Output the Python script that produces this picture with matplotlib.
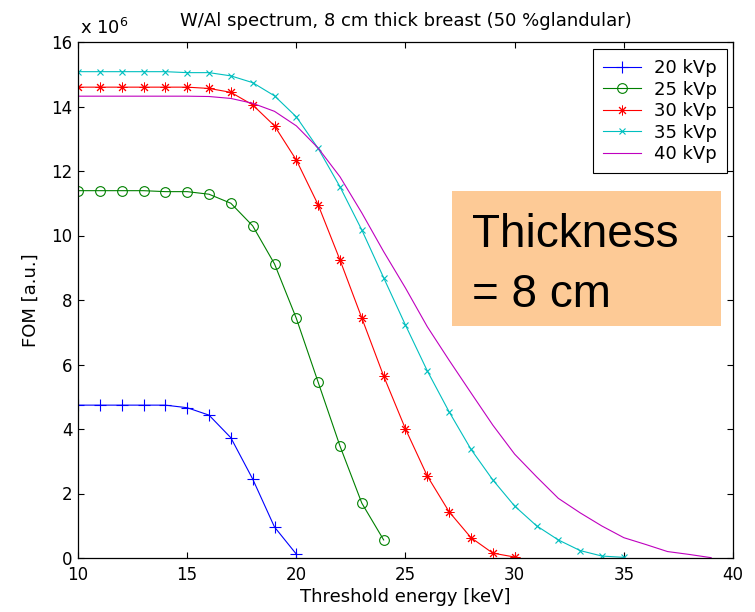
import matplotlib
matplotlib.use('Agg')
import matplotlib.pyplot as plt
from matplotlib.patches import Rectangle

# threshold energy [keV] and FOM [x 1e6] per tube voltage
energy_20 = list(range(10, 21))
fom_20 = [4.74, 4.74, 4.74, 4.74, 4.74, 4.66, 4.43, 3.73, 2.45, 0.96, 0.12]

energy_25 = list(range(10, 25))
fom_25 = [11.39, 11.39, 11.39, 11.39, 11.36, 11.36, 11.28, 11.0, 10.3, 9.12,
          7.43, 5.45, 3.47, 1.70, 0.56]

energy_30 = list(range(10, 31))
fom_30 = [14.6, 14.6, 14.6, 14.6, 14.6, 14.6, 14.56, 14.44, 14.05, 13.4,
          12.34, 10.95, 9.24, 7.44, 5.64, 4.0, 2.54, 1.43, 0.63, 0.15, 0.03]

energy_35 = list(range(10, 36))
fom_35 = [15.08, 15.08, 15.08, 15.08, 15.08, 15.05, 15.05, 14.95, 14.74, 14.33,
          13.68, 12.7, 11.51, 10.17, 8.69, 7.22, 5.80, 4.53, 3.37, 2.42,
          1.61, 1.0, 0.56, 0.23, 0.06, 0.02]

energy_40 = list(range(10, 40))
fom_40 = [14.32, 14.32, 14.32, 14.32, 14.32, 14.32, 14.31, 14.25, 14.1, 13.85,
          13.4, 12.71, 11.82, 10.7, 9.5, 8.37, 7.17, 6.13, 5.12, 4.12,
          3.22, 2.52, 1.85, 1.4, 0.99, 0.63, 0.42, 0.2, 0.11, 0.01]

labels = ['20 kVp', '25 kVp', '30 kVp', '35 kVp', '40 kVp']

fig = plt.figure(figsize=(7.55, 6.12), dpi=100)
ax = fig.add_axes([78 / 755, 1 - 558 / 612, 655 / 755, 516 / 612])

lw = 0.8
ax.plot(energy_20, fom_20, color=(0, 0, 1), marker='+', ms=8, mew=0.8, lw=lw, label=labels[0])
ax.plot(energy_25, fom_25, color=(0, 0.5, 0), marker='o', ms=7, mfc='none', mew=0.8, lw=lw, label=labels[1])
ax.plot(energy_30, fom_30, color=(1, 0, 0), marker=(8, 2, 0), ms=7, mew=0.7, lw=lw, label=labels[2])
ax.plot(energy_35, fom_35, color=(0, 0.75, 0.75), marker='x', ms=4.5, mew=0.8, lw=lw, label=labels[3])
ax.plot(energy_40, fom_40, color=(0.75, 0, 0.75), lw=lw, label=labels[4])

ax.set_xlim(10, 40)
ax.set_ylim(0, 16)
ax.set_xticks(range(10, 41, 5))
ax.set_yticks(range(0, 17, 2))
ax.tick_params(direction='in', top=True, right=True, length=4.5, width=0.8,
               labelsize=12)
ax.tick_params(axis='x', pad=6)
ax.tick_params(axis='y', pad=4)
for s in ax.spines.values():
    s.set_linewidth(0.9)

ax.set_xlabel('Threshold energy [keV]', fontsize=13)
ax.xaxis.set_label_coords(0.5, -0.058)
ax.set_ylabel('FOM [a.u.]', fontsize=13)
ax.yaxis.set_label_coords(-0.058, 0.5)

fig.text(405.5 / 755, 1 - 26 / 612, 'W/Al spectrum, 8 cm thick breast (50 %glandular)',
         ha='center', va='baseline', fontsize=13)
fig.text(80 / 755, 1 - 34 / 612, r'x 10$^{6}$', ha='left', va='baseline', fontsize=13)

leg = ax.legend(loc='upper right', bbox_to_anchor=(0.9908, 0.9864), borderaxespad=0,
                fontsize=13, fancybox=False, framealpha=1, handlelength=2.15,
                handletextpad=0.7, labelspacing=0.2, borderpad=0.55)
leg.get_frame().set_edgecolor('black')
leg.get_frame().set_linewidth(0.8)

# orange annotation box
box = Rectangle((452 / 755, 1 - 325.7 / 612), 269 / 755, 134.7 / 612,
                transform=fig.transFigure, facecolor='#FDCA96', edgecolor='none', zorder=5)
fig.patches.append(box)
fig.text(471.7 / 755, 1 - 246.7 / 612, 'Thickness', fontsize=33,
         family='Liberation Sans', va='baseline', zorder=6)
fig.text(471.7 / 755, 1 - 306.7 / 612, '= 8 cm', fontsize=33,
         family='Liberation Sans', va='baseline', zorder=6)

fig.savefig('out.png', dpi=100)
